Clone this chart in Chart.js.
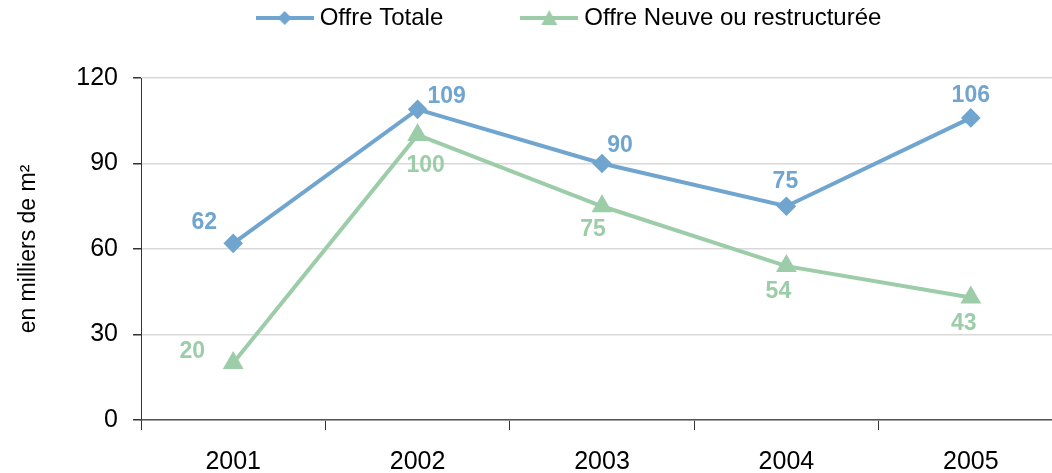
<!DOCTYPE html>
<html>
<head>
<meta charset="utf-8">
<script src="https://cdn.jsdelivr.net/npm/chart.js@4.4.1/dist/chart.umd.min.js"></script>
<style>
  html, body { margin: 0; padding: 0; background: #fff; overflow: hidden; }
</style>
</head>
<body>
<canvas id="offreChart" width="1075" height="473"></canvas>
<script>
const years = ['2001', '2002', '2003', '2004', '2005'];
const offreTotale = [62, 109, 90, 75, 106];
const offreNeuve = [20, 100, 75, 54, 43];
const yTicks = [0, 30, 60, 90, 120];

const blue = 'rgb(112, 165, 207)';
const green = 'rgb(156, 205, 168)';
const font = '"Liberation Sans", Arial, sans-serif';

// label offsets per point (dx, dy) relative to the marker
const totaleOffsets = [[-29, -21], [29, -13], [18, -18], [-1, -25], [0, -22]];
const neuveOffsets = [[-41, -11], [8, 31], [-9, 23], [-8, 26], [-7, 26]];

const legendPad = 83;

function legendIcon(color, style) {
    const c = document.createElement('canvas');
    c.width = 58; c.height = 20;
    const ctx = c.getContext('2d');
    ctx.strokeStyle = color;
    ctx.lineWidth = 4;
    ctx.beginPath(); ctx.moveTo(0, 10); ctx.lineTo(58, 10); ctx.stroke();
    ctx.fillStyle = color;
    ctx.beginPath();
    if (style === 'diamond') {
        ctx.moveTo(29, 3); ctx.lineTo(36, 10); ctx.lineTo(29, 17); ctx.lineTo(22, 10);
    } else {
        ctx.moveTo(29, 2); ctx.lineTo(37, 17); ctx.lineTo(21, 17);
    }
    ctx.closePath(); ctx.fill();
    return c;
}

const tweaks = {
    id: 'tweaks',
    beforeLayout(chart) {
        const lg = chart.legend;
        if (lg && !lg._patched) {
            const fit = lg.fit.bind(lg);
            lg.fit = function () { fit(); this.height = 76; };
            lg._patched = true;
        }
    },
    afterLayout(chart) {
        // the legend's wide item gap also pads it vertically, so move it back up
        // (only top: the legend clips to its own box)
        chart.legend.top -= 79;
        chart.legend.left += 34;
        chart.legend.right += 34;
    },
    afterDatasetsDraw(chart) {
        const ctx = chart.ctx;
        const offs = [totaleOffsets, neuveOffsets];
        ctx.save();
        ctx.font = 'bold 23px ' + font;
        ctx.textAlign = 'center';
        ctx.textBaseline = 'middle';
        chart.data.datasets.forEach((ds, i) => {
            ctx.fillStyle = ds.borderColor;
            chart.getDatasetMeta(i).data.forEach((pt, j) => {
                ctx.fillText(ds.data[j], pt.x + offs[i][j][0], pt.y + offs[i][j][1]);
            });
        });
        ctx.restore();
    }
};

new Chart(document.getElementById('offreChart'), {
    type: 'line',
    data: {
        labels: years,
        datasets: [{
            label: 'Offre Totale',
            data: offreTotale,
            borderColor: blue,
            backgroundColor: blue,
            borderWidth: 4,
            pointStyle: 'rectRot',
            pointRadius: 7,
            pointHoverRadius: 7,
            tension: 0
        }, {
            label: 'Offre Neuve ou restructurée',
            data: offreNeuve,
            borderColor: green,
            backgroundColor: green,
            borderWidth: 4,
            pointStyle: 'triangle',
            pointRadius: 8,
            pointHoverRadius: 8,
            tension: 0
        }]
    },
    options: {
        responsive: false,
        animation: false,
        layout: { padding: { top: 2, right: 0, left: 0, bottom: 0 } },
        plugins: {
            legend: {
                position: 'top',
                labels: {
                    usePointStyle: true,
                    pointStyleWidth: 46,
                    color: '#000',
                    font: { size: 24, family: font },
                    padding: legendPad,
                    generateLabels(chart) {
                        return chart.data.datasets.map((ds, i) => ({
                            text: ds.label,
                            pointStyle: legendIcon(ds.borderColor, i === 0 ? 'diamond' : 'triangle'),
                            fillStyle: ds.borderColor,
                            strokeStyle: ds.borderColor,
                            lineWidth: 0,
                            datasetIndex: i,
                            fontColor: '#000'
                        }));
                    }
                }
            },
            tooltip: { enabled: false }
        },
        scales: {
            x: {
                offset: true,
                grid: {
                    offset: true,
                    drawOnChartArea: false,
                    drawTicks: true,
                    tickLength: 10,
                    tickColor: '#333'
                },
                border: { color: '#555', width: 1.5 },
                ticks: {
                    color: '#000',
                    padding: 17,
                    font: { size: 25, family: font }
                },
                afterFit(scale) { scale.height = 53; }
            },
            y: {
                min: 0,
                max: 120,
                afterBuildTicks(scale) { scale.ticks = yTicks.map(v => ({ value: v })); },
                grid: {
                    color: '#d9d9d9',
                    lineWidth: 1.5,
                    tickLength: 8,
                    tickColor: '#333'
                },
                border: { color: '#333', width: 1 },
                ticks: {
                    color: '#000',
                    padding: 15,
                    font: { size: 25, family: font }
                },
                title: {
                    display: true,
                    text: 'en milliers de m²',
                    color: '#000',
                    padding: { top: 15, bottom: 0 },
                    font: { size: 23, family: font }
                },
                afterFit(scale) { scale.width = 141; }
            }
        }
    },
    plugins: [tweaks]
});
</script>
</body>
</html>
